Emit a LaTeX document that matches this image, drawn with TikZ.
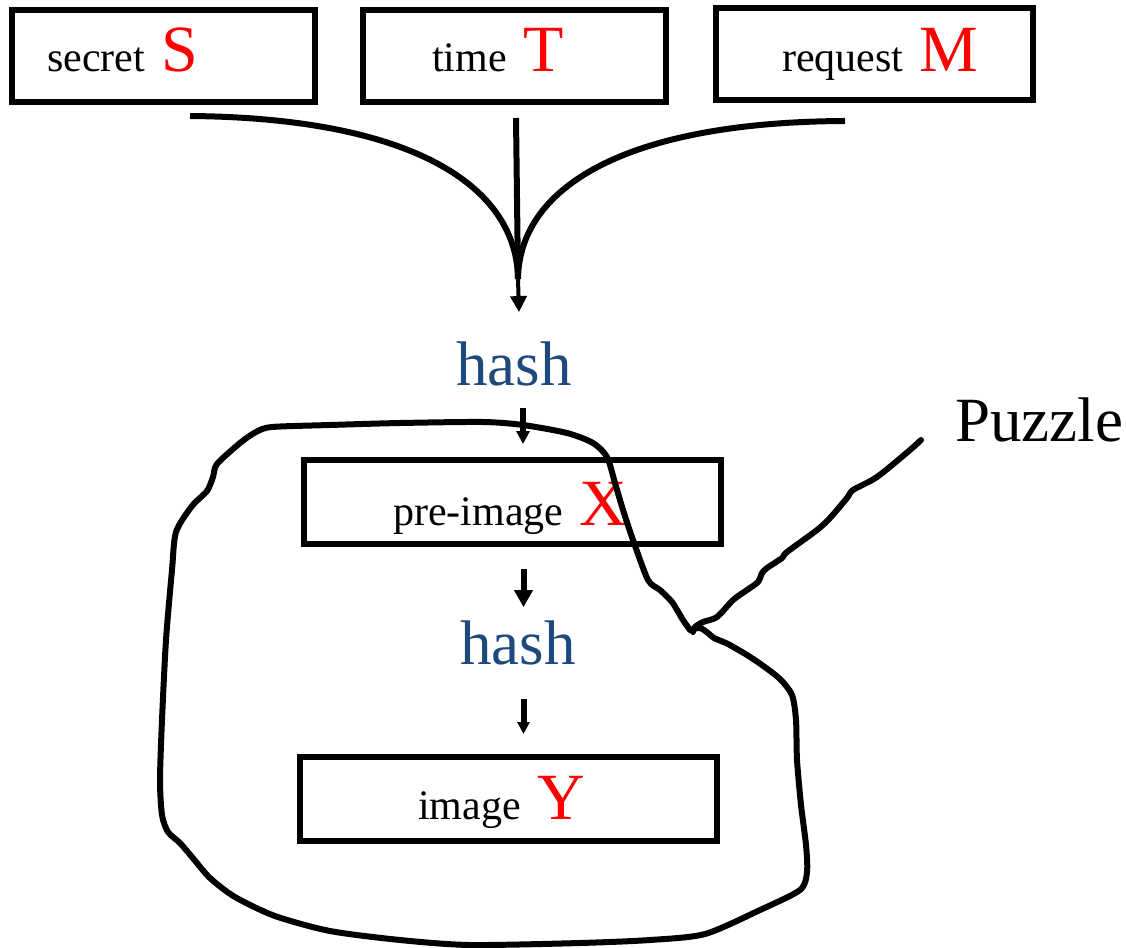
\documentclass[tikz,border=0pt]{standalone}
\usepackage{fontspec}
\setmainfont{Liberation Serif}
\usetikzlibrary{arrows.meta,calc}
\definecolor{hashblue}{RGB}{31,73,125}
\definecolor{keyred}{RGB}{255,0,0}
\newcommand\lbltxt{\fontsize{42}{48}\selectfont}
\newcommand\keyletter{\fontsize{66}{72}\selectfont\color{keyred}}
\newcommand\hashtxt{\fontsize{63}{70}\selectfont}
\begin{document}
\begin{tikzpicture}[x=1pt,y=-1pt,
  box/.style={draw,line width=6pt,inner sep=0pt,minimum height=92pt},
  lbl/.style={anchor=base west,inner sep=0pt,font=\lbltxt},
  hashlbl/.style={anchor=base,inner sep=0pt,text=hashblue,font=\hashtxt},
  wire/.style={line width=6pt},
  outline/.style={line width=6pt,line join=round,line cap=round}]
\useasboundingbox (0,0) rectangle (1126,947);

% input boxes
\node[box,minimum width=303pt] (sbox) at (163.5,56) {};
\node[box,minimum width=303pt] (tbox) at (514.5,56) {};
\node[box,minimum width=317pt] (rbox) at (874.5,54) {};
\node[lbl] (slbl) at (47,72) {secret{\keyletter\ S}};
\node[lbl] (tlbl) at (432,72) {time{\keyletter\ T}};
\node[lbl] (rlbl) at (782,72) {request{\keyletter\ M}};

% hashing chain
\node[hashlbl] (hash1) at (514,385) {hash};
\node[box,minimum width=417pt,minimum height=84pt] (pre) at (512.5,502) {};
\node[lbl] (prelbl) at (393,525) {pre-image{\keyletter\ X}};
\node[hashlbl] (hash2) at (518,664) {hash};
\node[box,minimum width=417pt,minimum height=84pt] (img) at (508.5,799) {};
\node[lbl] (imglbl) at (418,819) {image{\keyletter\ Y}};

% the three inputs merge into one
\coordinate (join) at (518,279);
\draw[wire] ($(sbox.south)+(26.5,11)$) .. controls (420,118) and (517,190) .. (join);
\draw[wire] ($(tbox.south)+(1.5,13)$) -- (join);
\draw[wire] ($(rbox.south)+(-29.5,18)$) .. controls (620,122) and (519,190) .. (join);

\draw[line width=4pt,-{Triangle[width=16pt,length=16pt]}]
  (join) -- ($(hash1.north)+(5,-29)$);
\draw[line width=5.5pt,-{Triangle[width=13pt,length=13pt]}]
  ($(hash1.south)+(9,22)$) -- ($(pre.north)+(10.5,-13)$);
\draw[line width=6pt,-{Triangle[width=18pt,length=17pt]}]
  ($(pre.south)+(11,22)$) -- ($(hash2.north)+(5.5,-13)$);
\draw[line width=6pt,-{Triangle[width=12pt,length=12pt]}]
  ($(hash2.south)+(5.5,34)$) -- ($(img.north)+(15,-20)$);

% hand-drawn outline of the puzzle
\draw[outline] plot[smooth,tension=0.45] coordinates {
 (690,630) (700,628) (708,633) (714,638) (728,644) (747,655) (762,665)
 (780,679) (792,695) (796,720) (797,760) (801,805) (806,845) (807,872)
 (800,890) (760,910) (705,934) (650,940) (580,943) (470,945) (400,940)
 (330,931) (275,916) (235,897) (210,878) (192,857) (180,843) (168,832)
 (162,815) (160,780) (162,720) (166,640) (172,570) (176,532) (192,506)
 (207,491) (213,477) (217,464) (240,443) (256,432) (272,427) (330,425)
 (400,423) (483,422) (523,425) (567,433) (593,443) (607,457) (615,483)
 (623,510) (633,540) (648,580) (660,590) (672,602) (683,620) (690,630)};

% label and its leader line
\node[anchor=base west,inner sep=0pt,font=\hashtxt] (puzzle) at (955,441) {Puzzle};
\coordinate (lead) at ($(puzzle.base west)+(-34,-1)$);
\draw[outline] plot[smooth,tension=0.45] coordinates {
 (lead) (910,450) (877,477) (853,490) (847,498) (830,518) (817,530)
 (787,552) (782,558) (767,568) (762,573) (758,582) (747,590) (733,600)
 (717,617) (703,622) (695,627) (693,632)};
\end{tikzpicture}
\end{document}
